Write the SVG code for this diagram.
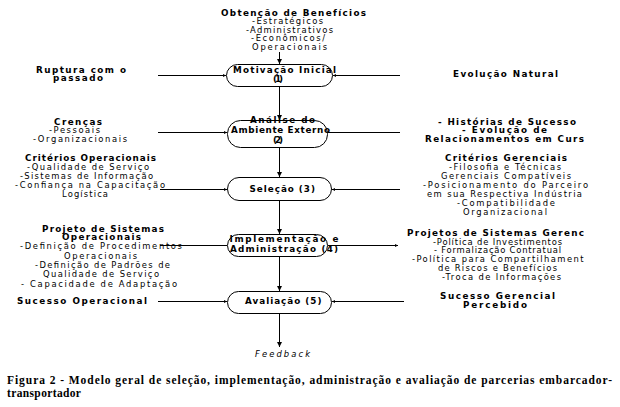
<svg xmlns="http://www.w3.org/2000/svg" width="620" height="407" viewBox="0 0 620 407">
<style>
.b{font-family:"DejaVu Sans","Liberation Sans",Arial,sans-serif;font-weight:bold;font-size:8.8px;fill:#000}
.r{font-family:"DejaVu Sans","Liberation Sans",Arial,sans-serif;font-size:8.4px;fill:#000}
.i{font-family:"DejaVu Sans","Liberation Sans",Arial,sans-serif;font-style:italic;font-size:8.4px;fill:#000}
.cap{font-family:"Liberation Serif","Times New Roman",serif;font-weight:bold;font-size:12.5px;fill:#000}
.node{fill:#fff;stroke:#000;stroke-width:1}
.ln{stroke:#000;stroke-width:1;fill:none}
</style>
<defs>
<marker id="ah" viewBox="0 0 6 6" refX="6" refY="3" markerWidth="5" markerHeight="5" markerUnits="userSpaceOnUse" orient="auto"><path d="M0,0 L6,3 L0,6 z" fill="#000"/></marker>
<marker id="tk" viewBox="0 0 4 4" refX="4" refY="2" markerWidth="3" markerHeight="3" markerUnits="userSpaceOnUse" orient="auto"><path d="M0,0 L4,2 L0,4 z" fill="#000"/></marker>
<clipPath id="rc"><rect x="0" y="0" width="585" height="407"/></clipPath>
</defs>
<rect width="620" height="407" fill="#fff"/>

<g id="connectors">
<path class="ln" d="M279.5,52 V64" marker-end="url(#ah)"/>
<path class="ln" d="M279.5,86 V120" marker-end="url(#ah)"/>
<path class="ln" d="M279.5,147 V177" marker-end="url(#ah)"/>
<path class="ln" d="M279.5,200 V234" marker-end="url(#ah)"/>
<path class="ln" d="M279.5,257 V291" marker-end="url(#ah)"/>
<path class="ln" d="M279.5,313 V347" marker-end="url(#ah)"/>
<path class="ln" d="M158,75.5 H226" marker-end="url(#tk)"/>
<path class="ln" d="M400,75.5 H333" marker-end="url(#tk)"/>
<path class="ln" d="M158,132.5 H227" marker-end="url(#tk)"/>
<path class="ln" d="M400,132.5 H328"/>
<path class="ln" d="M160,189.5 H227" marker-end="url(#tk)"/>
<path class="ln" d="M400,189.5 H332" marker-end="url(#tk)"/>
<path class="ln" d="M160,245.5 H227"/>
<path class="ln" d="M328,245.5 H398" marker-end="url(#tk)"/>
<path class="ln" d="M158,301.5 H227" marker-end="url(#tk)"/>
<path class="ln" d="M404,301.5 H332" marker-end="url(#tk)"/>
</g>

<g id="n1">
<rect class="node" x="226.5" y="64.5" width="106" height="22" rx="11"/>
<text class="b" x="233" y="72.7" textLength="103" lengthAdjust="spacing">Motivação Inicial</text>
<text class="b" x="273" y="81.7" textLength="10" lengthAdjust="spacing">(1)</text>
</g>
<g id="n2">
<rect class="node" x="227.5" y="120.5" width="100" height="27" rx="13"/>
<text class="b" x="250" y="122.7" textLength="65" lengthAdjust="spacing">Análise do</text>
<text class="b" x="231" y="133.3" textLength="99" lengthAdjust="spacing">Ambiente Externo</text>
<text class="b" x="273" y="143.3" textLength="10" lengthAdjust="spacing">(2)</text>
</g>
<g id="n3">
<rect class="node" x="227.5" y="177.5" width="104" height="23" rx="11.5"/>
<text class="b" x="249.5" y="191.7" textLength="65.5" lengthAdjust="spacing">Seleção (3)</text>
</g>
<g id="n4">
<rect class="node" x="227.5" y="234.5" width="100" height="22" rx="11"/>
<text class="b" x="229.5" y="242.3" textLength="109" lengthAdjust="spacing">Implementação e</text>
<text class="b" x="230" y="251.7" textLength="108" lengthAdjust="spacing">Administração (4)</text>
</g>
<g id="n5">
<rect class="node" x="227.5" y="291.5" width="104" height="22" rx="11"/>
<text class="b" x="245" y="304" textLength="76.5" lengthAdjust="spacing">Avaliação (5)</text>
</g>

<g id="t-beneficios">
<text class="b" x="221" y="15.5" textLength="145" lengthAdjust="spacing">Obtenção de Benefícios</text>
<text class="r" x="252" y="24" textLength="71" lengthAdjust="spacing">-Estratégicos</text>
<text class="r" x="246" y="32.5" textLength="87" lengthAdjust="spacing">-Administrativos</text>
<text class="r" x="251" y="41" textLength="74" lengthAdjust="spacing">-Econômicos/</text>
<text class="r" x="252" y="49.5" textLength="75" lengthAdjust="spacing">Operacionais</text>
</g>
<g id="t-ruptura">
<text class="b" x="36" y="72.5" textLength="90" lengthAdjust="spacing">Ruptura com o</text>
<text class="b" x="53" y="81" textLength="50" lengthAdjust="spacing">passado</text>
</g>
<g id="t-evolucao">
<text class="b" x="453" y="76.5" textLength="105" lengthAdjust="spacing">Evolução Natural</text>
</g>
<g id="t-crencas">
<text class="b" x="54" y="124.5" textLength="48" lengthAdjust="spacing">Crenças</text>
<text class="r" x="49" y="133" textLength="51" lengthAdjust="spacing">-Pessoais</text>
<text class="r" x="33" y="142" textLength="94" lengthAdjust="spacing">-Organizacionais</text>
</g>
<g id="t-historias">
<text class="b" x="438" y="124.5" textLength="138" lengthAdjust="spacing">- Histórias de Sucesso</text>
<text class="b" x="462" y="133" textLength="85" lengthAdjust="spacing">- Evolução de</text>
<text class="b" x="425" y="142" textLength="159" lengthAdjust="spacing">Relacionamentos em Curs</text>
</g>
<g id="t-crit-oper">
<text class="b" x="25" y="161" textLength="131" lengthAdjust="spacing">Critérios Operacionais</text>
<text class="r" x="27" y="170" textLength="122" lengthAdjust="spacing">-Qualidade de Serviço</text>
<text class="r" x="20" y="178.7" textLength="133" lengthAdjust="spacing">-Sistemas de Informação</text>
<text class="r" x="15" y="187.7" textLength="150" lengthAdjust="spacing">-Confiança na Capacitação</text>
<text class="r" x="62" y="196.7" textLength="46" lengthAdjust="spacing">Logística</text>
</g>
<g id="t-crit-ger">
<text class="b" x="445" y="161" textLength="122" lengthAdjust="spacing">Critérios Gerenciais</text>
<text class="r" x="449" y="170" textLength="112" lengthAdjust="spacing">-Filosofia e Técnicas</text>
<text class="r" x="441" y="178.7" textLength="130" lengthAdjust="spacing">Gerenciais Compatíveis</text>
<text class="r" x="423" y="187.7" textLength="165" lengthAdjust="spacing">-Posicionamento do Parceiro</text>
<text class="r" x="427" y="196.7" textLength="155" lengthAdjust="spacing">em sua Respectiva Indústria</text>
<text class="r" x="457" y="205.7" textLength="98" lengthAdjust="spacing">-Compatibilidade</text>
<text class="r" x="463" y="215" textLength="84" lengthAdjust="spacing">Organizacional</text>
</g>
<g id="t-proj-oper">
<text class="b" x="42" y="231.5" textLength="122" lengthAdjust="spacing">Projeto de Sistemas</text>
<text class="b" x="62" y="240" textLength="79" lengthAdjust="spacing">Operacionais</text>
<text class="r" x="20" y="249.3" textLength="162" lengthAdjust="spacing">-Definição de Procedimentos</text>
<text class="r" x="64" y="258.7" textLength="73" lengthAdjust="spacing">Operacionais</text>
<text class="r" x="35" y="268" textLength="135" lengthAdjust="spacing">-Definição de Padrões de</text>
<text class="r" x="43" y="277.3" textLength="116" lengthAdjust="spacing">Qualidade de Serviço</text>
<text class="r" x="21" y="286.7" textLength="156" lengthAdjust="spacing">- Capacidade de Adaptação</text>
</g>
<g id="t-proj-ger" clip-path="url(#rc)">
<text class="b" x="407" y="236" textLength="177" lengthAdjust="spacing">Projetos de Sistemas Gerenc</text>
<text class="r" x="433" y="244.5" textLength="129" lengthAdjust="spacing">-Política de Investimentos</text>
<text class="r" x="434" y="253" textLength="127" lengthAdjust="spacing">- Formalização Contratual</text>
<text class="r" x="412" y="262.3" textLength="178" lengthAdjust="spacing">-Política para Compartilhamento</text>
<text class="r" x="438" y="271" textLength="119" lengthAdjust="spacing">de Riscos e Benefícios</text>
<text class="r" x="442" y="280" textLength="119" lengthAdjust="spacing">-Troca de Informações</text>
</g>
<g id="t-sucesso-oper">
<text class="b" x="17" y="303.5" textLength="130" lengthAdjust="spacing">Sucesso Operacional</text>
</g>
<g id="t-sucesso-ger">
<text class="b" x="440" y="299" textLength="115" lengthAdjust="spacing">Sucesso Gerencial</text>
<text class="b" x="463" y="307.7" textLength="64" lengthAdjust="spacing">Percebido</text>
</g>
<g id="t-feedback">
<text class="i" x="255" y="357" textLength="55" lengthAdjust="spacing">Feedback</text>
</g>
<g id="caption" transform="translate(7,0) scale(0.92,1)">
<text class="cap" x="0" y="384" textLength="657.6" lengthAdjust="spacing">Figura 2 - Modelo geral de seleção, implementação, administração e avaliação de parcerias embarcador-</text>
<text class="cap" x="0" y="397.5" textLength="80.4" lengthAdjust="spacing">transportador</text>
</g>
</svg>
